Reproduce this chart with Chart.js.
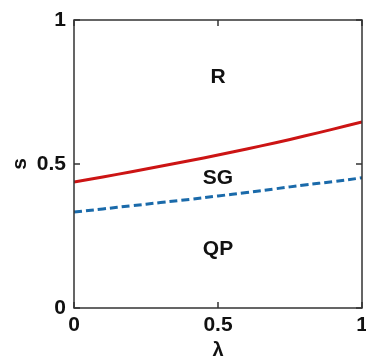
<!DOCTYPE html>
<html>
<head>
<meta charset="utf-8">
<script src="https://cdn.jsdelivr.net/npm/chart.js@4.4.0/dist/chart.umd.min.js"></script>
<style>
  html, body { margin: 0; padding: 0; background: #fff; }
  #wrap { width: 366px; height: 362px; }
</style>
</head>
<body>
<div id="wrap"><canvas id="chart"></canvas></div>
<script>
// DATA
const lambda = [0, 0.1, 0.2, 0.3, 0.4, 0.5, 0.6, 0.7, 0.8, 0.9, 1];
const sRed = [0.437, 0.455, 0.473, 0.492, 0.511, 0.531, 0.552, 0.574, 0.597, 0.621, 0.646];
const sBlue = [0.333, 0.344, 0.355, 0.366, 0.377, 0.389, 0.401, 0.414, 0.427, 0.439, 0.452];
const tickVals = [0, 0.5, 1];
const regions = [
    { text: "R", x: 0.5, y: 0.8 },
    { text: "SG", x: 0.5, y: 0.45 },
    { text: "QP", x: 0.5, y: 0.205 }
];

const FONT = "'Liberation Sans', Arial, sans-serif";

function pts(ys) {
    return lambda.map((x, i) => ({ x: x, y: ys[i] }));
}

// CAIXA + TICKS PARA DENTRO + TEXTOS
const frame = {
    id: "frame",
    afterDatasetsDraw(chart) {
        const c = chart.ctx;
        const a = chart.chartArea;
        const xs = chart.scales.x, ys = chart.scales.y;
        c.save();
        c.strokeStyle = "#333";
        c.lineWidth = 1.5;
        c.strokeRect(a.left, a.top, a.right - a.left, a.bottom - a.top);
        c.beginPath();
        tickVals.forEach(v => {
            const px = xs.getPixelForValue(v);
            c.moveTo(px, a.bottom); c.lineTo(px, a.bottom - 6);
            c.moveTo(px, a.top); c.lineTo(px, a.top + 6);
            const py = ys.getPixelForValue(v);
            c.moveTo(a.left, py); c.lineTo(a.left + 6, py);
            c.moveTo(a.right, py); c.lineTo(a.right - 6, py);
        });
        c.stroke();

        c.fillStyle = "#111";
        c.font = "bold 21px " + FONT;
        c.textAlign = "center";
        c.textBaseline = "middle";
        regions.forEach(r => {
            c.fillText(r.text, xs.getPixelForValue(r.x), ys.getPixelForValue(r.y));
        });
        c.restore();
    }
};

new Chart(document.getElementById("chart"), {
    type: "line",
    data: {
        datasets: [
            {
                data: pts(sRed),
                borderColor: "#cc1414",
                borderWidth: 3,
                pointRadius: 0,
                tension: 0.4,
                fill: false
            },
            {
                data: pts(sBlue),
                borderColor: "#1a6aaa",
                borderWidth: 3,
                borderDash: [8, 4],
                pointRadius: 0,
                tension: 0.4,
                fill: false
            }
        ]
    },
    plugins: [frame],
    options: {
        responsive: true,
        maintainAspectRatio: false,
        animation: false,
        layout: { padding: { top: 20, right: 4, left: 0, bottom: 0 } },
        plugins: { legend: { display: false }, tooltip: { enabled: false } },
        scales: {
            x: {
                type: "linear",
                min: 0, max: 1,
                afterBuildTicks: s => { s.ticks = tickVals.map(v => ({ value: v })); },
                afterFit: s => { s.height = 54; s.paddingRight = 0; s.paddingLeft = 0; },
                grid: { display: false, drawTicks: false },
                border: { display: false },
                ticks: {
                    color: "#111",
                    padding: 5,
                    maxRotation: 0,
                    font: { family: FONT, size: 21, weight: "bold" },
                    callback: v => String(v)
                },
                title: {
                    display: true,
                    text: "λ",
                    color: "#111",
                    padding: { top: 0, bottom: 0 },
                    font: { family: FONT, size: 20, weight: "bold" }
                }
            },
            y: {
                min: 0, max: 1,
                afterBuildTicks: s => { s.ticks = tickVals.map(v => ({ value: v })); },
                afterFit: s => { s.width = 74; s.paddingTop = 0; s.paddingBottom = 0; },
                grid: { display: false, drawTicks: false },
                border: { display: false },
                ticks: {
                    color: "#111",
                    padding: 8,
                    font: { family: FONT, size: 21, weight: "bold" },
                    callback: v => String(v)
                },
                title: {
                    display: true,
                    text: "s",
                    color: "#111",
                    padding: { top: 8, bottom: 0 },
                    font: { family: FONT, size: 21, weight: "bold" }
                }
            }
        }
    }
});
</script>
</body>
</html>
